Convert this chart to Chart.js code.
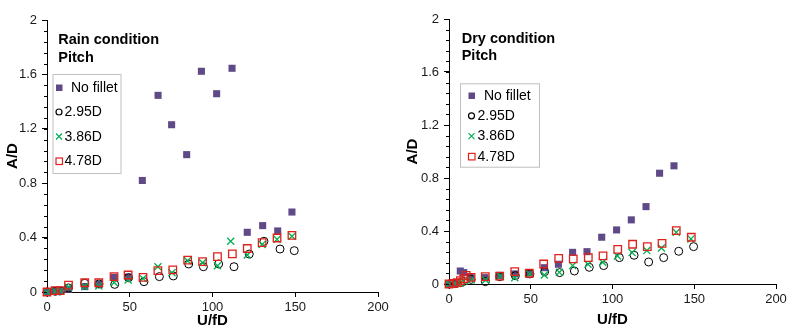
<!DOCTYPE html>
<html>
<head>
<meta charset="utf-8">
<script src="https://cdn.jsdelivr.net/npm/chart.js@4.4.1/dist/chart.umd.min.js"></script>
<style>
  body { margin: 0; background: #fff; }
  .wrap { position: absolute; top: 0; width: 400px; height: 336px; }
</style>
</head>
<body>
<div class="wrap" style="left:0"><canvas id="rainChart" width="400" height="336"></canvas></div>
<div class="wrap" style="left:400px"><canvas id="dryChart" width="400" height="336"></canvas></div>
<script>
// tick values
const X_TICKS = [0, 50, 100, 150, 200];
const Y_TICKS = [0, 0.4, 0.8, 1.2, 1.6, 2];
const Y_MINOR_STEP = 0.08;

const SERIES_LABELS = ['No fillet', '2.95D', '3.86D', '4.78D'];

// Rain condition, [U/fD, A/D]
const rainNoFillet = [[0,0],[4.5,0.01],[7.5,0.01],[12.9,0.02],[22.8,0.04],[31.5,0.055],[40.5,0.108],[49.2,0.11],
  [57.6,0.82],[67.1,1.446],[75.3,1.23],[84.4,1.01],[93.3,1.623],[102.5,1.458],[111.8,1.645],
  [121,0.439],[130.3,0.488],[139.4,0.449],[148,0.588]];
const rain295 = [[0,0],[5,0.005],[8,0.008],[13,0.03],[22.8,0.064],[31.4,0.059],[40.9,0.056],[49.3,0.105],
  [58.6,0.076],[67.9,0.113],[76.3,0.118],[85.6,0.206],[94.5,0.186],[103.7,0.206],[113,0.186],
  [122.2,0.279],[131.1,0.373],[140.8,0.316],[149.4,0.304]];
const rain386 = [[0,0],[5,0.005],[8,0.008],[13,0.035],[22.8,0.04],[31.3,0.045],[40.6,0.07],[49,0.088],
  [58,0.1],[67,0.186],[75.5,0.142],[85,0.23],[94,0.215],[103,0.193],[111,0.373],
  [121,0.272],[130,0.35],[139,0.387],[148,0.41]];
const rain478 = [[0,0],[5,0.01],[8,0.01],[13,0.05],[22.8,0.068],[31.3,0.068],[40.5,0.113],[49,0.125],
  [58,0.108],[67,0.157],[76,0.162],[85,0.235],[94,0.223],[103,0.26],[112,0.28],
  [121,0.32],[130,0.363],[139,0.397],[148,0.417]];

// Dry condition, [U/fD, A/D]
const dryNoFillet = [[0,0],[4,0.005],[6.9,0.098],[9,0.086],[13,0.05],[22,0.048],[30.8,0.065],[40.2,0.076],
  [49.1,0.086],[58.3,0.123],[66.9,0.149],[75.6,0.239],[84.4,0.244],[93.4,0.353],[102.5,0.408],
  [111.5,0.484],[120.5,0.584],[128.8,0.836],[137.6,0.892]];
const dry295 = [[0,0],[4,0.003],[7,0.01],[9,0.02],[13.5,0.035],[22.2,0.018],[31,0.055],[40.6,0.063],
  [49.5,0.076],[58.5,0.093],[67.7,0.086],[76.7,0.098],[85.8,0.126],[94.6,0.139],[104.2,0.199],
  [113.2,0.217],[122.1,0.166],[131.3,0.199],[140.5,0.247],[149.6,0.282]];
const dry386 = [[0,0],[4,0.003],[7,0.008],[9,0.02],[13.5,0.03],[22.4,0.03],[31.4,0.06],[40.2,0.048],
  [49.3,0.076],[58.3,0.068],[67.5,0.088],[75.6,0.139],[85,0.149],[94,0.164],[103,0.212],
  [112,0.237],[121,0.252],[129.9,0.272],[139,0.39],[148,0.34]];
const dry478 = [[0,0],[3,0.005],[5,0.01],[7,0.025],[9,0.04],[10.5,0.065],[13.5,0.05],[22.2,0.055],
  [31,0.06],[40.2,0.093],[49.1,0.081],[57.9,0.151],[67.1,0.194],[76,0.189],[85.2,0.199],
  [94.2,0.212],[103.2,0.262],[112.3,0.3],[121.3,0.282],[130.3,0.307],[139,0.403],[148.2,0.353]];

const FONT = "'Liberation Sans', Arial, sans-serif";
const PURPLE = '#5f4a87', GREEN = '#00b050', RED = '#e0201b';

const toPts = arr => arr.map(p => ({ x: p[0], y: p[1] }));

function makeDatasets(a, b, c, d) {
  return [
    { label: SERIES_LABELS[0], data: toPts(a), pointStyle: 'rect', pointRadius: 5,
      backgroundColor: PURPLE, borderColor: PURPLE, pointBorderWidth: 0, order: 4, mk: 'sq' },
    { label: SERIES_LABELS[1], data: toPts(b), pointStyle: 'circle', pointRadius: 4,
      backgroundColor: 'rgba(0,0,0,0)', borderColor: '#000', pointBorderWidth: 1, order: 3, mk: 'circ' },
    { label: SERIES_LABELS[2], data: toPts(c), pointStyle: 'crossRot', pointRadius: 5,
      backgroundColor: GREEN, borderColor: GREEN, pointBorderWidth: 1.3, order: 2, mk: 'x' },
    { label: SERIES_LABELS[3], data: toPts(d), pointStyle: 'rect', pointRadius: 5.3,
      backgroundColor: 'rgba(255,255,255,0)', borderColor: RED, pointBorderWidth: 1.3, order: 1, mk: 'hsq' }
  ];
}

// minor ticks, title text and the boxed legend
const extras = {
  id: 'extras',
  afterDraw(chart, args, o) {
    const ctx = chart.ctx, ca = chart.chartArea, ys = chart.scales.y;
    ctx.save();
    ctx.strokeStyle = '#000';
    ctx.lineWidth = 1;
    for (let v = 0; v <= 2.0001; v += Y_MINOR_STEP) {
      const py = Math.round(ys.getPixelForValue(v)) + 0.5;
      ctx.beginPath();
      ctx.moveTo(ca.left - 3, py);
      ctx.lineTo(ca.left, py);
      ctx.stroke();
    }
    // title
    ctx.fillStyle = '#000';
    ctx.font = 'bold 14.5px ' + FONT;
    ctx.textBaseline = 'alphabetic';
    o.title.forEach((t, i) => ctx.fillText(t, o.titleX, o.titleY + i * 17.5));
    // legend
    const L = o.legend;
    ctx.fillStyle = '#fff';
    ctx.fillRect(L.x, L.y, L.w, L.h);
    ctx.strokeStyle = '#bfbfbf';
    ctx.strokeRect(L.x + 0.5, L.y + 0.5, L.w, L.h);
    ctx.font = '14px ' + FONT;
    ctx.textBaseline = 'middle';
    chart.data.datasets.forEach((ds, i) => {
      const cy = L.row0 + i * L.rowH, cx = L.mx;
      ctx.lineWidth = 1.2;
      if (ds.mk === 'sq') {
        ctx.fillStyle = PURPLE; ctx.fillRect(cx - 3, cy - 3, 6.5, 6.5);
      } else if (ds.mk === 'circ') {
        ctx.strokeStyle = '#000'; ctx.beginPath(); ctx.arc(cx, cy, 3, 0, Math.PI * 2); ctx.stroke();
      } else if (ds.mk === 'x') {
        ctx.strokeStyle = GREEN; ctx.beginPath();
        ctx.moveTo(cx - 3, cy - 3); ctx.lineTo(cx + 3, cy + 3);
        ctx.moveTo(cx + 3, cy - 3); ctx.lineTo(cx - 3, cy + 3); ctx.stroke();
      } else {
        ctx.strokeStyle = RED; ctx.strokeRect(cx - 3, cy - 3, 6.5, 6.5);
      }
      ctx.fillStyle = '#000';
      ctx.fillText(ds.label, i === 0 ? L.tx0 : L.tx, cy + 0.5);
    });
    ctx.restore();
  }
};

function makeChart(id, datasets, box, extraOpts) {
  const tickFont = { family: FONT, size: 13 };
  const titleFont = { family: FONT, size: 15, weight: 'bold' };
  return new Chart(document.getElementById(id), {
    type: 'scatter',
    data: { datasets: datasets },
    plugins: [extras],
    options: {
      responsive: false,
      animation: false,
      devicePixelRatio: 1,
      clip: false,
      layout: { padding: { top: box.top, right: box.right, bottom: 0, left: 0 } },
      plugins: { legend: { display: false }, tooltip: { enabled: false }, extras: extraOpts },
      scales: {
        x: {
          type: 'linear', min: 0, max: 200,
          afterBuildTicks: s => { s.ticks = X_TICKS.map(v => ({ value: v })); },
          afterFit: s => { s.height = box.xh; },
          ticks: { font: tickFont, color: '#1a1a1a', padding: 3, maxRotation: 0, callback: v => String(v) },
          grid: { drawOnChartArea: false, drawTicks: true, tickLength: 5, color: '#000' },
          border: { color: '#000', width: 1 },
          title: { display: true, text: 'U/fD', font: titleFont, color: '#000', padding: { top: 2, bottom: box.xtb } }
        },
        y: {
          type: 'linear', min: 0, max: 2,
          afterBuildTicks: s => { s.ticks = Y_TICKS.map(v => ({ value: v })); },
          afterFit: s => { s.width = box.yw; },
          ticks: { font: tickFont, color: '#1a1a1a', padding: 5, callback: v => String(v) },
          grid: { drawOnChartArea: false, drawTicks: true, tickLength: 5, color: '#000' },
          border: { color: '#000', width: 1 },
          title: { display: true, text: 'A/D', font: titleFont, color: '#000', padding: { top: 4, bottom: 2 } }
        }
      }
    }
  });
}

makeChart('rainChart', makeDatasets(rainNoFillet, rain295, rain386, rain478),
  { top: 20, right: 22, xh: 44, yw: 47, xtb: 6 },
  { title: ['Rain condition', 'Pitch'], titleX: 58.3, titleY: 44,
    legend: { x: 52.5, y: 74, w: 68, h: 99, row0: 87.5, rowH: 24.5, mx: 59, tx0: 71, tx: 64.5 } });

makeChart('dryChart', makeDatasets(dryNoFillet, dry295, dry386, dry478),
  { top: 19, right: 24, xh: 52, yw: 49, xtb: 7 },
  { title: ['Dry condition', 'Pitch'], titleX: 61.7, titleY: 42.5,
    legend: { x: 60, y: 83.3, w: 79, h: 83.4, row0: 95.5, rowH: 20.3, mx: 71.5, tx0: 84, tx: 77.5 } });
</script>
</body>
</html>
